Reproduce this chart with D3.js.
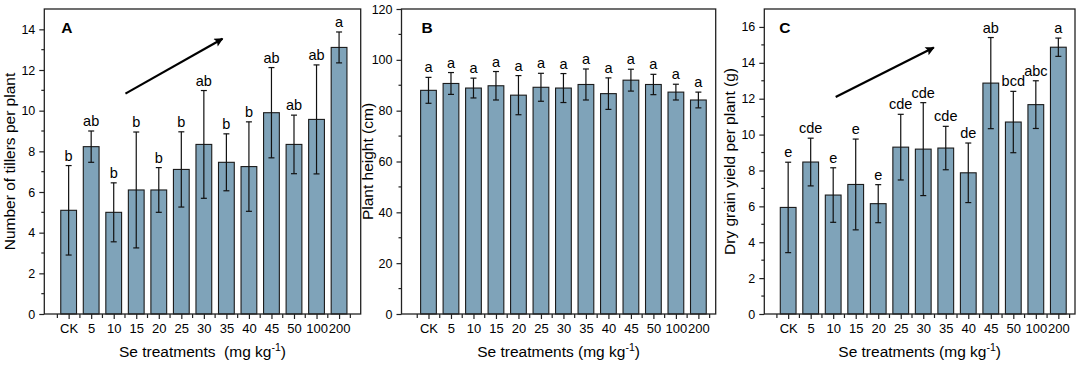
<!DOCTYPE html>
<html>
<head>
<meta charset="utf-8">
<script src="https://cdn.jsdelivr.net/npm/d3@7"></script>
<style>
  body { margin: 0; background: #fff; }
  svg { display: block; }
  text { font-family: Arial, "Liberation Sans", sans-serif; fill: #000; }
</style>
</head>
<body>
<script>
// GLOBAL VARIABLES
const WIDTH = 1084;
const HEIGHT = 366;
const BAR_COLOR = "#7fa3b9";
const FONT = "Arial, 'Liberation Sans', sans-serif";

// DATA
const categories = ["CK", "5", "10", "15", "20", "25", "30", "35", "40", "45", "50", "100", "200"];

// A: number of tillers per plant
const tillerMeans = [5.1, 8.23, 5.0, 6.1, 6.1, 7.11, 8.34, 7.46, 7.25, 9.9, 8.34, 9.57, 13.11];
const tillerErrors = [2.2, 0.77, 1.45, 2.85, 1.1, 1.85, 2.65, 1.4, 2.2, 2.22, 1.44, 2.68, 0.76];
const tillerLetters = ["b", "ab", "b", "b", "b", "b", "ab", "b", "b", "ab", "ab", "ab", "a"];

// B: plant height (cm)
const heightMeans = [88.0, 90.7, 88.9, 89.8, 86.1, 89.2, 88.9, 90.3, 86.7, 92.0, 90.3, 87.3, 84.2];
const heightErrors = [5.1, 4.3, 3.9, 5.6, 7.7, 5.5, 5.7, 6.1, 6.2, 4.3, 4.0, 3.1, 3.1];
const heightLetters = ["a", "a", "a", "a", "a", "a", "a", "a", "a", "a", "a", "a", "a"];

// C: dry grain yield per plant (g)
const yieldMeans = [5.94, 8.47, 6.63, 7.22, 6.15, 9.30, 9.19, 9.25, 7.87, 12.87, 10.70, 11.67, 14.87];
const yieldErrors = [2.52, 1.33, 1.52, 2.53, 1.06, 1.83, 2.59, 1.21, 1.66, 2.54, 1.71, 1.33, 0.51];
const yieldLetters = ["e", "cde", "e", "e", "e", "cde", "cde", "cde", "de", "ab", "bcd", "abc", "a"];

// trend arrows, [category index, value] pairs
const tillerArrow = [[2.52, 10.84], [6.83, 13.54]];
const yieldArrow = [[2.11, 12.1], [6.47, 14.85]];

const svg = d3.select("body").append("svg").attr("width", WIDTH).attr("height", HEIGHT);

svg.append("defs").append("marker")
  .attr("id", "arrowHead")
  .attr("viewBox", "0 0 10 10")
  .attr("refX", 9).attr("refY", 5)
  .attr("markerWidth", 13).attr("markerHeight", 9)
  .attr("markerUnits", "userSpaceOnUse")
  .attr("orient", "auto")
  .append("path")
  .attr("d", "M0,0 L10,5 L0,10 L2,5 z")
  .attr("fill", "#000");

const panels = [
  { tag: "A", tagDx: 17, means: tillerMeans, errors: tillerErrors, letters: tillerLetters, arrow: tillerArrow,
    left: 44.3, right: 360.7, xDomain: [-1.08, 12.96], yMax: 15, major: 2,
    yLabel: "Number of tillers per plant", xLabel: "Se treatments  (mg kg" },
  { tag: "B", tagDx: 20, means: heightMeans, errors: heightErrors, letters: heightLetters, arrow: null,
    left: 401.5, right: 715.7, xDomain: [-1.2, 12.77], yMax: 120, major: 20,
    yLabel: "Plant height (cm)", xLabel: "Se treatments (mg kg" },
  { tag: "C", tagDx: 15, means: yieldMeans, errors: yieldErrors, letters: yieldLetters, arrow: yieldArrow,
    left: 764.3, right: 1075, xDomain: [-1.06, 12.74], yMax: 17, major: 2,
    yLabel: "Dry grain yield per plant (g)", xLabel: "Se treatments (mg kg" }
];

const TOP = 9;
const BOTTOM = 314;

const panelDrawer = p => {
  const g = svg.append("g");
  const x = d3.scaleLinear().domain(p.xDomain).range([p.left, p.right]);
  const y = d3.scaleLinear().domain([0, p.yMax]).range([BOTTOM, TOP]);
  const halfBar = 0.35;
  const rows = categories.map((c, i) => ({ c, i, v: p.means[i], e: p.errors[i], l: p.letters[i] }));

  // bars
  g.append("g").selectAll("rect")
    .data(rows)
    .enter()
    .append("rect")
    .attr("x", d => x(d.i - halfBar))
    .attr("width", d => x(d.i + halfBar) - x(d.i - halfBar))
    .attr("y", d => y(d.v))
    .attr("height", d => y(0) - y(d.v))
    .attr("fill", BAR_COLOR)
    .attr("stroke", "#1a1a1a")
    .attr("stroke-width", 1.1);

  // error bars
  const err = g.append("g").attr("stroke", "#111").attr("stroke-width", 1.2);
  err.selectAll(".stem").data(rows).enter().append("line")
    .attr("x1", d => x(d.i)).attr("x2", d => x(d.i))
    .attr("y1", d => y(d.v - d.e)).attr("y2", d => y(d.v + d.e));
  err.selectAll(".capTop").data(rows).enter().append("line")
    .attr("x1", d => x(d.i) - 3).attr("x2", d => x(d.i) + 3)
    .attr("y1", d => y(d.v + d.e)).attr("y2", d => y(d.v + d.e));
  err.selectAll(".capBottom").data(rows).enter().append("line")
    .attr("x1", d => x(d.i) - 3).attr("x2", d => x(d.i) + 3)
    .attr("y1", d => y(d.v - d.e)).attr("y2", d => y(d.v - d.e));

  // significance letters
  g.append("g").selectAll("text")
    .data(rows)
    .enter()
    .append("text")
    .attr("x", d => x(d.i))
    .attr("y", d => y(d.v + d.e) - 5)
    .attr("text-anchor", "middle")
    .attr("font-size", 14.5)
    .text(d => d.l);

  // frame
  g.append("rect")
    .attr("x", p.left).attr("y", TOP)
    .attr("width", p.right - p.left).attr("height", BOTTOM - TOP)
    .attr("fill", "none").attr("stroke", "#222").attr("stroke-width", 1.3);

  // y axis
  const yMajor = d3.range(0, p.yMax + 0.001, p.major);
  const yMinor = d3.range(p.major / 2, p.yMax, p.major);
  const yAxis = g.append("g")
    .attr("transform", `translate(${p.left},0)`)
    .call(d3.axisLeft(y).tickValues(yMajor).tickSize(5).tickSizeOuter(0).tickPadding(4));
  yAxis.select(".domain").remove();
  yAxis.selectAll("line").attr("stroke", "#222").attr("stroke-width", 1.2);
  yAxis.selectAll("text").attr("font-size", 12.5).attr("font-family", FONT).attr("fill", "#000");
  g.append("g").selectAll("line").data(yMinor).enter().append("line")
    .attr("x1", p.left - 3).attr("x2", p.left)
    .attr("y1", d => y(d)).attr("y2", d => y(d))
    .attr("stroke", "#222").attr("stroke-width", 1.2);

  // x axis
  const xAxis = g.append("g")
    .attr("transform", `translate(0,${BOTTOM})`)
    .call(d3.axisBottom(x).tickValues(categories.map((c, i) => i)).tickFormat(i => categories[i])
      .tickSize(5).tickSizeOuter(0).tickPadding(5));
  xAxis.select(".domain").remove();
  xAxis.selectAll("line").attr("stroke", "#222").attr("stroke-width", 1.2);
  xAxis.selectAll("text").attr("font-size", 13).attr("font-family", FONT).attr("fill", "#000");
  const xMinor = d3.range(-0.5, categories.length, 1).filter(v => v > p.xDomain[0] && v < p.xDomain[1]);
  g.append("g").selectAll("line").data(xMinor).enter().append("line")
    .attr("x1", d => x(d)).attr("x2", d => x(d))
    .attr("y1", BOTTOM).attr("y2", BOTTOM + 4)
    .attr("stroke", "#222").attr("stroke-width", 1.2);

  // titles
  g.append("text")
    .attr("transform", `translate(${p.left - 33},${(TOP + BOTTOM) / 2}) rotate(-90)`)
    .attr("text-anchor", "middle")
    .attr("dominant-baseline", "middle")
    .attr("font-size", 15.5)
    .text(p.yLabel);

  const xt = g.append("text")
    .attr("x", (p.left + p.right) / 2)
    .attr("y", 357)
    .attr("text-anchor", "middle")
    .attr("font-size", 15.5)
    .style("white-space", "pre");
  xt.append("tspan").text(p.xLabel);
  xt.append("tspan").attr("font-size", 10.5).attr("dy", -6).text("-1");
  xt.append("tspan").attr("dy", 6).text(")");

  g.append("text")
    .attr("x", p.left + p.tagDx)
    .attr("y", 33)
    .attr("font-size", 15.5)
    .attr("font-weight", "bold")
    .text(p.tag);

  // trend arrow
  if (p.arrow) {
    g.append("line")
      .attr("x1", x(p.arrow[0][0])).attr("y1", y(p.arrow[0][1]))
      .attr("x2", x(p.arrow[1][0])).attr("y2", y(p.arrow[1][1]))
      .attr("stroke", "#000").attr("stroke-width", 2.2)
      .attr("marker-end", "url(#arrowHead)");
  }
};

panels.forEach(panelDrawer);
</script>
</body>
</html>
